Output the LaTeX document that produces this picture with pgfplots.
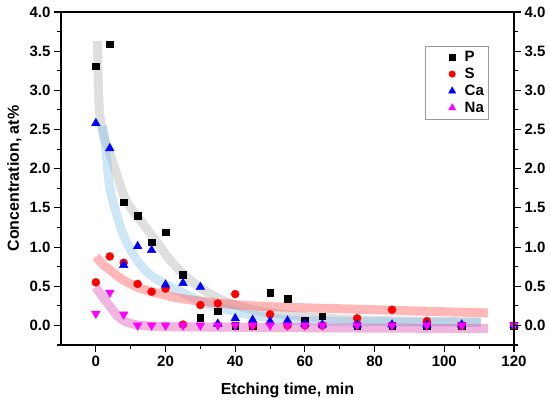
\documentclass[border=0pt]{standalone}
\usepackage{fontspec}
\setmainfont{Liberation Sans}
\usepackage{pgfplots}
\pgfplotsset{compat=1.18}
\definecolor{bandgray}{RGB}{185,185,185}
\definecolor{bandblue}{RGB}{130,195,235}
\definecolor{bandred}{RGB}{255,95,95}
\definecolor{bandpink}{RGB}{225,90,185}
\definecolor{mag}{RGB}{255,0,255}
\begin{document}
\begin{tikzpicture}
\begin{axis}[
  scale only axis, width=453pt, height=333pt,
  xmin=-10, xmax=120, ymin=-0.25, ymax=4.0,
  xtick={0,20,...,120}, minor x tick num=1,
  ytick={0,0.5,...,4.0}, minor ytick={-0.25,0.25,0.75,1.25,1.75,2.25,2.75,3.25,3.75},
  xtick pos=bottom, ytick pos=left,
  tick align=outside,
  major tick length=7pt, minor tick length=4pt,
  every tick/.style={black, line width=1.1pt},
  axis line style={line width=1.3pt},
  /pgf/number format/assume math mode=true,
  yticklabel style={/pgf/number format/fixed,/pgf/number format/fixed zerofill,/pgf/number format/precision=1},
  ticklabel style={font=\fontsize{15}{17}\selectfont\bfseries},
  xlabel={Etching time, min},
  ylabel={Concentration, at\%},
  label style={font=\fontsize{16}{19}\selectfont\bfseries},
  xlabel style={at={(axis description cs:0.5,-0.135)},anchor=center},
  ylabel style={at={(axis description cs:-0.103,0.5)},anchor=center},
  legend style={at={(0.943,0.898)},anchor=north east,draw=gray!80,line width=0.6pt,
    font=\fontsize{15}{17}\selectfont\bfseries, inner xsep=2pt, inner ysep=3pt, row sep=1pt},
  legend cell align=left,
  legend image code/.code={\path[draw=none,fill=none] (0pt,0pt) -- (35pt,0pt); \draw[#1,mark options={scale=0.8}] plot coordinates {(24.5pt,0pt)};},
]
% fitted bands
\addplot[forget plot, no marks, smooth, line width=9pt, color=bandgray, opacity=0.45] coordinates {
(0.5,3.63)(0.6,3.3)(0.8,2.95)(1.1,2.7)(2,2.45)(4,2.2)(6,1.93)(8,1.66)(10,1.5)(14,1.27)(18,1.03)(22,0.8)(26,0.62)(30,0.48)(35,0.35)(40,0.26)(45,0.2)(50,0.16)(60,0.11)(70,0.08)(80,0.065)(95,0.05)(110.5,0.045)};
\addplot[forget plot, no marks, smooth, line width=9pt, color=bandblue, opacity=0.4] coordinates {
(2,2.55)(2.9,2.24)(3.7,1.85)(4.8,1.6)(5.9,1.43)(7.5,1.2)(9.5,1.0)(12,0.82)(15.2,0.66)(19,0.55)(23.3,0.45)(28,0.35)(33,0.26)(38,0.2)(42.4,0.15)(50,0.1)(57,0.065)(70,0.05)(90,0.042)(110.5,0.04)};
\addplot[forget plot, no marks, smooth, line width=9pt, color=bandred, opacity=0.45] coordinates {
(0,0.88)(2,0.78)(4.3,0.70)(6.5,0.62)(9,0.55)(13,0.47)(18.6,0.40)(23,0.355)(28,0.32)(35,0.285)(42,0.258)(50,0.24)(60,0.225)(80,0.2)(95,0.18)(112.5,0.16)};
\addplot[forget plot, no marks, smooth, line width=9pt, color=bandpink, opacity=0.45] coordinates {
(0,0.49)(2,0.36)(4.3,0.23)(6,0.13)(8,0.06)(10,0.025)(13,0.0)(18,-0.015)(30,-0.02)(60,-0.03)(112.5,-0.04)};
% data
\addplot[only marks, mark=square*, mark size=3.3pt, black] coordinates {
(0,3.31)(4,3.59)(8,1.57)(12,1.40)(16,1.06)(20,1.19)(25,0.65)(30,0.10)(35,0.18)(40,0.0)(45,0.0)(50,0.42)(55,0.34)(60,0.06)(65,0.12)(75,0.0)(85,0.0)(95,0.0)(105,0.0)(120,0.0)};
\addlegendentry{P}
\addplot[only marks, mark=*, mark size=4pt, red] coordinates {
(0,0.55)(4,0.88)(8,0.80)(12,0.53)(16,0.43)(20,0.47)(25,0.01)(30,0.26)(35,0.28)(40,0.40)(45,0.0)(50,0.14)(55,0.0)(60,0.0)(65,0.0)(75,0.09)(85,0.20)(95,0.055)(105,0.0)(120,0.0)};
\addlegendentry{S}
\addplot[only marks, mark=triangle*, mark size=5pt, blue] coordinates {
(0,2.58)(4,2.26)(8,0.77)(12,1.01)(16,0.96)(20,0.52)(25,0.54)(30,0.49)(35,0.02)(40,0.09)(45,0.07)(50,0.05)(55,0.06)(60,0.02)(65,0.01)(75,0.01)(85,0.01)(95,0.01)(105,0.01)(120,0.0)};
\addlegendentry{Ca}
\addplot[only marks, mark=triangle*, mark options={rotate=180}, mark size=5pt, mag] coordinates {
(0,0.15)(4,0.42)(8,0.14)(12,0.0)(16,0.0)(20,0.0)(25,0.0)(30,0.0)(35,0.0)(40,0.0)(45,0.0)(50,0.0)(55,0.0)(60,0.0)(65,0.0)(75,0.0)(85,0.0)(95,0.0)(105,0.0)(120,0.0)};
\addlegendentry{Na}
\end{axis}
\begin{axis}[
  scale only axis, width=453pt, height=333pt,
  xmin=-10, xmax=120, ymin=-0.25, ymax=4.0,
  hide x axis, axis y line*=right,
  ytick={0,0.5,...,4.0}, minor ytick={-0.25,0.25,0.75,1.25,1.75,2.25,2.75,3.25,3.75},
  tick align=outside,
  major tick length=7pt, minor tick length=4pt,
  every tick/.style={black, line width=1.1pt},
  axis line style={line width=1.3pt, -},
  /pgf/number format/assume math mode=true,
  yticklabel style={/pgf/number format/fixed,/pgf/number format/fixed zerofill,/pgf/number format/precision=1},
  ticklabel style={font=\fontsize{15}{17}\selectfont\bfseries},
]
\addplot[draw=none, forget plot] coordinates {(0,0)};
\end{axis}
\pgfresetboundingbox
\path[use as bounding box] (-61pt,-55pt) rectangle (489pt,345pt);
\end{tikzpicture}
\end{document}
